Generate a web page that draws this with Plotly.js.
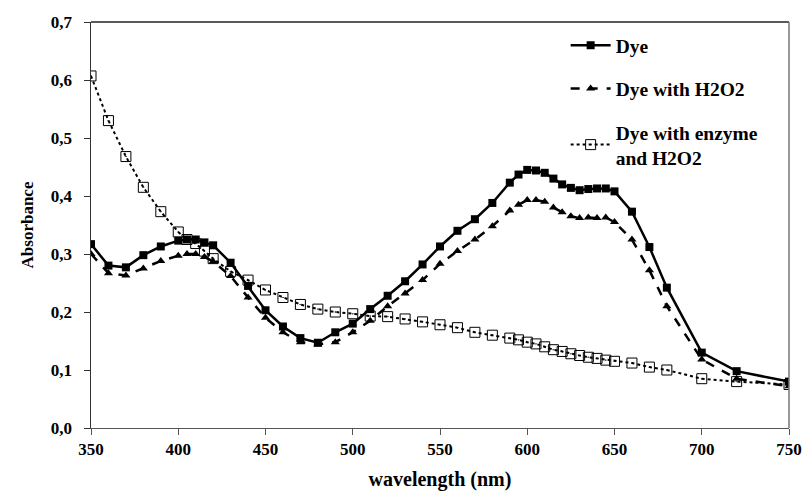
<!DOCTYPE html>
<html><head><meta charset="utf-8">
<script src="https://cdn.plot.ly/plotly-3.0.1.min.js"></script>
<style>body{margin:0;background:#fff}#c{width:805px;height:491px}</style>
</head><body><div id="c"></div>
<script>
const wavelength = [350,360,370,380,390,400,405,410,415,420,430,440,450,460,470,480,490,500,510,520,530,540,550,560,570,580,590,595,600,605,610,615,620,625,630,635,640,645,650,660,670,680,700,720,750];
const dye = [0.317,0.280,0.277,0.298,0.313,0.323,0.325,0.325,0.320,0.315,0.285,0.245,0.203,0.175,0.155,0.147,0.165,0.180,0.205,0.228,0.253,0.282,0.313,0.340,0.360,0.388,0.423,0.437,0.445,0.444,0.440,0.430,0.420,0.414,0.410,0.412,0.413,0.413,0.408,0.373,0.312,0.242,0.130,0.098,0.080];
const dyeH2O2 = [0.300,0.267,0.263,0.275,0.288,0.297,0.300,0.300,0.295,0.287,0.262,0.225,0.190,0.165,0.148,0.144,0.148,0.165,0.185,0.210,0.232,0.255,0.283,0.305,0.325,0.348,0.375,0.385,0.393,0.393,0.390,0.380,0.372,0.365,0.362,0.363,0.362,0.363,0.355,0.325,0.272,0.210,0.118,0.085,0.072];
const dyeEnzyme = [0.607,0.530,0.468,0.415,0.373,0.338,0.325,0.318,0.305,0.292,0.270,0.255,0.238,0.225,0.213,0.205,0.200,0.197,0.193,0.192,0.188,0.183,0.178,0.173,0.165,0.160,0.155,0.152,0.148,0.145,0.140,0.135,0.132,0.128,0.125,0.122,0.120,0.117,0.115,0.112,0.105,0.100,0.085,0.080,0.075];
const seriesNames = ["Dye","Dye with H2O2","Dye with enzyme<br>and H2O2"];
const xTicks = [350,400,450,500,550,600,650,700,750];

const serif = "Liberation Serif";
const traces = [
  {x:wavelength, y:dye, name:seriesNames[0], legendgroup:"a", mode:"lines+markers",
   line:{color:"#000", width:2.5, dash:"solid"},
   marker:{symbol:"square", size:8, color:"#000"}},
  {x:wavelength, y:dyeH2O2, name:seriesNames[1], legendgroup:"b", mode:"lines+markers",
   line:{color:"#000", width:2.5, dash:"dash"},
   marker:{symbol:"triangle-up", size:8, color:"#000"}},
  {x:wavelength, y:dyeEnzyme, name:seriesNames[2], legendgroup:"c", mode:"lines+markers",
   line:{color:"#000", width:2, dash:"dot"},
   marker:{symbol:"square-open-dot", size:10, color:"#000", line:{width:1, color:"#000"}}}
];
const boldFont = (s) => ({family:serif, size:s, color:"#000", weight:700});
const layout = {
  width:805, height:491,
  margin:{l:91, r:16, t:22, b:63},
  paper_bgcolor:"#fff", plot_bgcolor:"#fff",
  separators:",.",
  font:{family:serif, size:16, color:"#000", weight:700},
  showlegend:true,
  legend:{x:0.68, y:0.99, xanchor:"left", yanchor:"top", bgcolor:"rgba(0,0,0,0)",
          font:boldFont(19.5), tracegroupgap:15, itemwidth:40},
  xaxis:{range:[350,750], tickvals:xTicks, ticks:"outside", ticklen:6, tickcolor:"#555",
         showline:true, linecolor:"#555", linewidth:1, showgrid:false, zeroline:false,
         tickfont:boldFont(17),
         title:{text:"wavelength (nm)", font:boldFont(20), standoff:18}},
  yaxis:{range:[0,0.7], dtick:0.1, tickformat:".1f", ticks:"outside", ticklen:6, tickcolor:"#333",
         showline:true, linecolor:"#333", linewidth:1, showgrid:false, zeroline:false,
         ticksuffix:"\u00a0\u00a0",
         tickfont:boldFont(17),
         title:{text:"Absorbance", font:boldFont(17), standoff:12}},
  shapes:[
    {type:"line", xref:"paper", yref:"paper", x0:0, x1:1, y0:1, y1:1, line:{color:"#222", width:1.5}},
    {type:"line", xref:"paper", yref:"paper", x0:1, x1:1, y0:0, y1:1, line:{color:"#777", width:1.5}}
  ]
};
Plotly.newPlot("c", traces, layout, {displayModeBar:false});
</script></body></html>
